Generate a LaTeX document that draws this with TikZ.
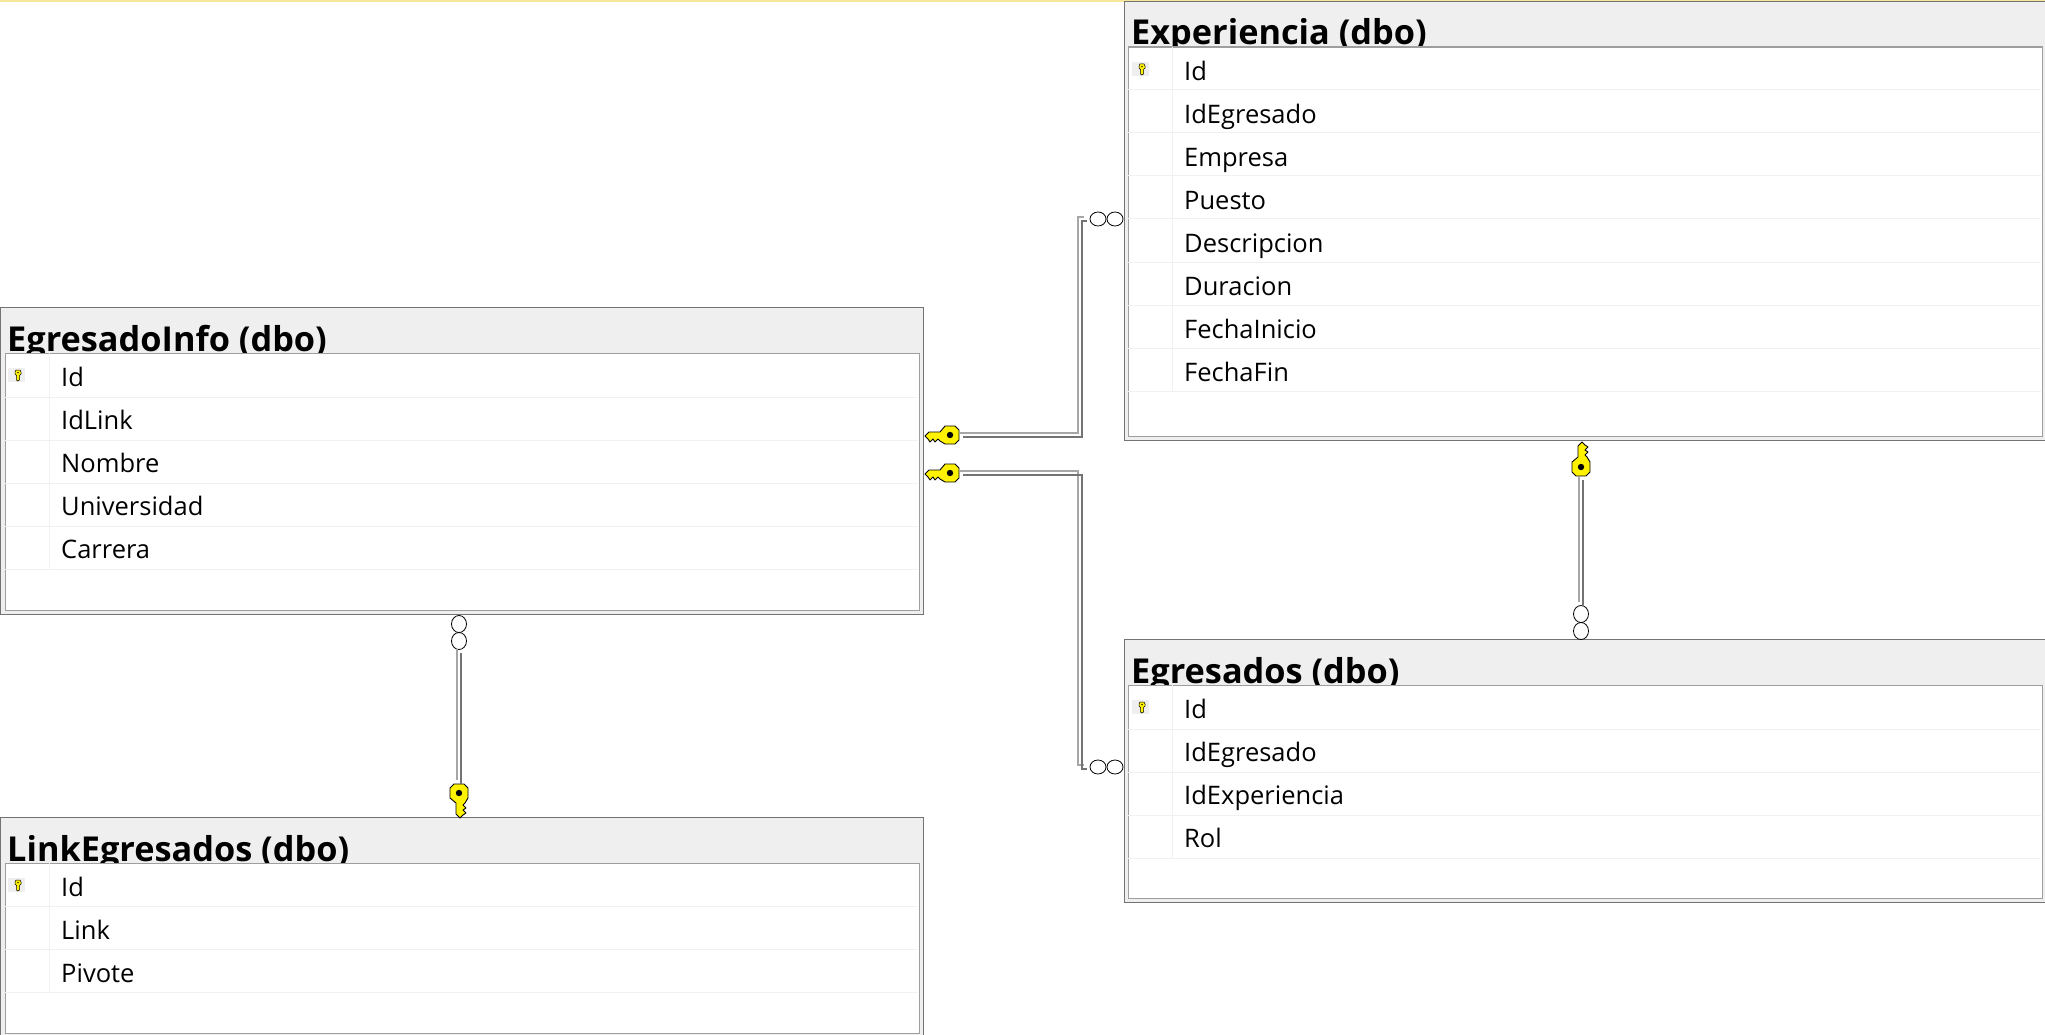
\documentclass[tikz,border=0pt]{standalone}
\usepackage{amsmath, amssymb, fontspec}
\usetikzlibrary{shapes.geometric}
\setmainfont{Open Sans}
\definecolor{bandgray}{HTML}{EFEFEF}
\definecolor{rowgray}{HTML}{F1F1F1}
\definecolor{keyyellow}{HTML}{FFF200}
\tikzset{
  tablebox/.style={draw=black!55,fill=bandgray,line width=1.3pt,anchor=north west,inner sep=0pt},
  panelbox/.style={draw=black!38,fill=white,line width=1.3pt,anchor=north west,inner sep=0pt},
  tabletitle/.style={anchor=base west,inner sep=0pt,font=\fontsize{34.3}{35}\selectfont\bfseries},
  fieldname/.style={anchor=base west,inner sep=0pt,font=\fontsize{25.5}{26}\selectfont,text=black},
  rowline/.style={draw=rowgray,line width=1pt},
  ring/.style={ellipse,draw,line width=.8pt,inner sep=0pt},
  keyspot/.style={circle,inner sep=0pt,minimum size=22pt},
  rellight/.style={draw=black!35,line width=1.7pt,transform canvas={shift={(-1.7pt,1.7pt)}}},
  reldark/.style={draw=black!55,line width=2pt,transform canvas={shift={(1.7pt,-1.7pt)}}},
  keyicon/.pic={
    \draw[fill=keyyellow,line width=.9pt,line join=round] (-25,1) -- (-21,-3) -- (-10,-3) -- (-5,-9) -- (5,-9) -- (9,-5)
      -- (9,5) -- (5,9) -- (-5,9) -- (-10,6) -- (-12,4) -- (-15,7) -- (-17,4) -- (-20,7) -- (-22,4) -- cycle;
    \fill (0,0) circle (3.2);
  },
  smallkey/.pic={
    \path[fill=bandgray] (-10,-7) rectangle (7,7);
    \draw[fill=keyyellow,line width=.5pt] (-2,-5) -- (2,-5) -- (3,-3) -- (3,-1) -- (1.5,0.5) -- (1.5,5) -- (-.5,6) -- (-1.5,5) -- (-1.5,0.5) -- (-3,-1) -- (-3,-3) -- cycle;
    \fill (0,-2.4) circle (.8);
  }
}
\begin{document}
\begin{tikzpicture}[x=1pt,y=-1pt]
  \useasboundingbox (0,0) rectangle (2045,1035);
  \fill[yellow!30!bandgray!90!orange] (0,0) rectangle (2045,1.6);

  % EgresadoInfo
  \node[tablebox,minimum width=923pt,minimum height=307pt] (info) at (0,307) {};
  \node[tabletitle] (infotitle) at (7,351) {EgresadoInfo (dbo)};
  \node[panelbox,minimum width=914pt,minimum height=257pt] (infopanel) at (5,352.5) {};
  \pic at (18,375) {smallkey};
  \draw[rowline] (5,397) -- (918,397);
  \draw[rowline] (5,440) -- (918,440);
  \draw[rowline] (5,483) -- (918,483);
  \draw[rowline] (5,526) -- (918,526);
  \draw[rowline] (5,569) -- (918,569);
  \draw[rowline] (49,353) -- (49,569);
  \node[fieldname] (infoid) at (61,386) {Id};
  \node[fieldname] (infolink) at (61,429) {IdLink};
  \node[fieldname] (infonombre) at (61,472) {Nombre};
  \node[fieldname] (infouni) at (61,515) {Universidad};
  \node[fieldname] (infocarrera) at (61,558) {Carrera};

  % LinkEgresados
  \node[tablebox,minimum width=923pt,minimum height=230pt] (link) at (0,817) {};
  \node[tabletitle] (linktitle) at (7,861) {LinkEgresados (dbo)};
  \node[panelbox,minimum width=914pt,minimum height=170pt] (linkpanel) at (5,862.5) {};
  \pic at (18,885) {smallkey};
  \draw[rowline] (5,906) -- (918,906);
  \draw[rowline] (5,949) -- (918,949);
  \draw[rowline] (5,992) -- (918,992);
  \draw[rowline] (49,863) -- (49,992);
  \node[fieldname] (linkid) at (61,896) {Id};
  \node[fieldname] (linklink) at (61,939) {Link};
  \node[fieldname] (linkpivote) at (61,982) {Pivote};

  % Experiencia
  \node[tablebox,minimum width=940pt,minimum height=439pt] (exp) at (1124,1) {};
  \node[tabletitle] (exptitle) at (1131,45) {Experiencia (dbo)};
  \node[panelbox,minimum width=914pt,minimum height=389pt] (exppanel) at (1128,46.5) {};
  \pic at (1142,69) {smallkey};
  \draw[rowline] (1128,90) -- (2041,90);
  \draw[rowline] (1128,133) -- (2041,133);
  \draw[rowline] (1128,176) -- (2041,176);
  \draw[rowline] (1128,219) -- (2041,219);
  \draw[rowline] (1128,262) -- (2041,262);
  \draw[rowline] (1128,305) -- (2041,305);
  \draw[rowline] (1128,348) -- (2041,348);
  \draw[rowline] (1128,391) -- (2041,391);
  \draw[rowline] (1172,47) -- (1172,391);
  \node[fieldname] (expid) at (1184,80.5) {Id};
  \node[fieldname] (expegr) at (1184,123.5) {IdEgresado};
  \node[fieldname] (expempresa) at (1184,166.5) {Empresa};
  \node[fieldname] (exppuesto) at (1184,209.5) {Puesto};
  \node[fieldname] (expdesc) at (1184,252.5) {Descripcion};
  \node[fieldname] (expdur) at (1184,295.5) {Duracion};
  \node[fieldname] (expini) at (1184,338.5) {FechaInicio};
  \node[fieldname] (expfin) at (1184,381.5) {FechaFin};

  % Egresados
  \node[tablebox,minimum width=940pt,minimum height=263pt] (egr) at (1124,639) {};
  \node[tabletitle] (egrtitle) at (1131,683) {Egresados (dbo)};
  \node[panelbox,minimum width=914pt,minimum height=213pt] (egrpanel) at (1128,684.5) {};
  \pic at (1142,707) {smallkey};
  \draw[rowline] (1128,729) -- (2041,729);
  \draw[rowline] (1128,772) -- (2041,772);
  \draw[rowline] (1128,815) -- (2041,815);
  \draw[rowline] (1128,858) -- (2041,858);
  \draw[rowline] (1172,685) -- (1172,858);
  \node[fieldname] (egrid) at (1184,718) {Id};
  \node[fieldname] (egregr) at (1184,761) {IdEgresado};
  \node[fieldname] (egrexp) at (1184,804) {IdExperiencia};
  \node[fieldname] (egrrol) at (1184,847) {Rol};

  % keys and rings
  \node[keyspot] (keya) at (950,435) {};
  \node[keyspot] (keyb) at (950,473) {};
  \node[keyspot] (keyc) at (1581,467) {};
  \node[keyspot] (keyd) at (459,793) {};
  \pic at (keya) {keyicon};
  \pic at (keyb) {keyicon};
  \pic[rotate=-90,yscale=-1] at (keyc) {keyicon};
  \pic[rotate=90] at (keyd) {keyicon};

  \node[ring,minimum width=16pt,minimum height=14pt] (ringa) at (1098,219) {};
  \node[ring,minimum width=16pt,minimum height=14pt] (ringaa) at (1115,219) {};
  \node[ring,minimum width=16pt,minimum height=14pt] (ringb) at (1098,767) {};
  \node[ring,minimum width=16pt,minimum height=14pt] (ringbb) at (1115,767) {};
  \node[ring,minimum width=15pt,minimum height=17pt] (ringc) at (1581,614) {};
  \node[ring,minimum width=15pt,minimum height=17pt] (ringcc) at (1581,631) {};
  \node[ring,minimum width=15pt,minimum height=17pt] (ringd) at (459,624) {};
  \node[ring,minimum width=15pt,minimum height=17pt] (ringdd) at (459,641) {};

  \coordinate (benda) at (1080,300);
  \coordinate (bendb) at (1080,600);
  \draw[rellight,shorten >=4pt] (keya.east) -| (benda) |- (ringa.west);
  \draw[reldark,shorten >=4pt] (keya.east) -| (benda) |- (ringa.west);
  \draw[rellight,shorten >=4pt] (keyb.east) -| (bendb) |- (ringb.west);
  \draw[reldark,shorten >=4pt] (keyb.east) -| (bendb) |- (ringb.west);
  \draw[rellight,shorten >=1pt] (keyc.south) -- (ringc.north);
  \draw[reldark,shorten >=1pt] (keyc.south) -- (ringc.north);
  \draw[rellight,shorten >=1pt] (keyd.north) -- (ringdd.south);
  \draw[reldark,shorten >=1pt] (keyd.north) -- (ringdd.south);
\end{tikzpicture}
\end{document}
